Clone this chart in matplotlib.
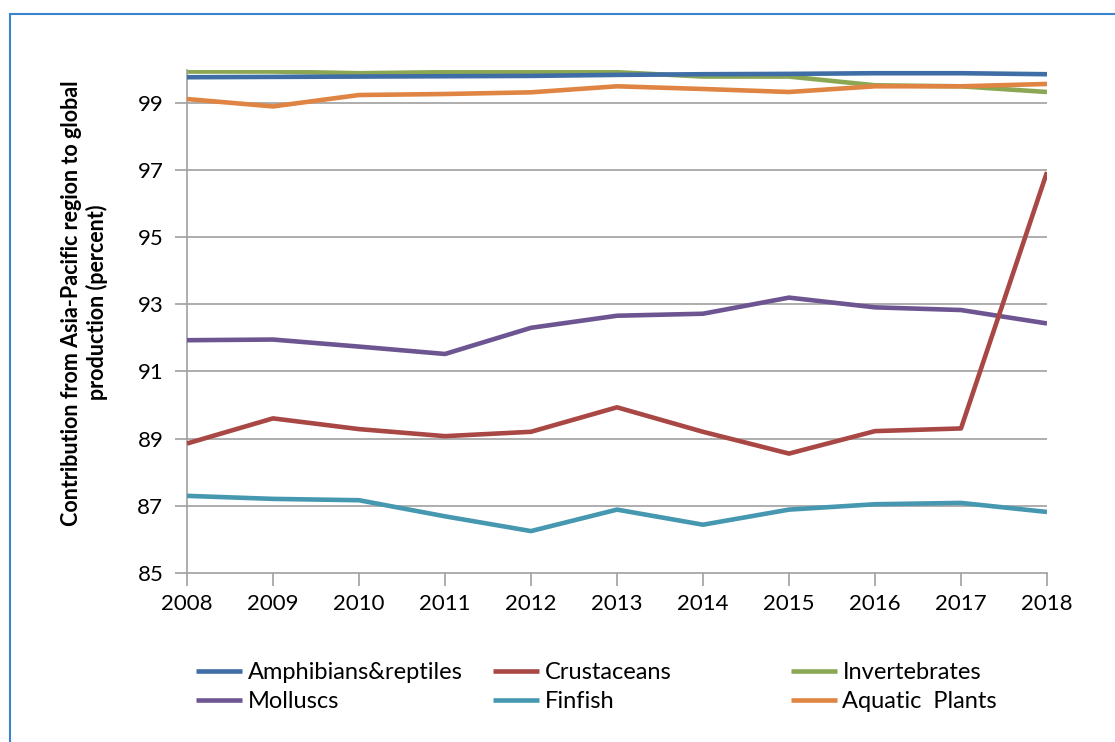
import matplotlib.pyplot as plt
from matplotlib.patches import Rectangle

years = list(range(2008, 2019))

amphibians = [99.77, 99.78, 99.79, 99.80, 99.81, 99.84, 99.86, 99.87, 99.89, 99.89, 99.86]
crustaceans = [88.85, 89.60, 89.28, 89.07, 89.20, 89.93, 89.20, 88.55, 89.22, 89.30, 96.94]
invertebrates = [99.94, 99.94, 99.89, 99.92, 99.92, 99.92, 99.79, 99.79, 99.53, 99.50, 99.33]
molluscs = [91.93, 91.95, 91.74, 91.52, 92.30, 92.66, 92.72, 93.20, 92.91, 92.83, 92.43]
finfish = [87.29, 87.20, 87.16, 86.68, 86.24, 86.88, 86.43, 86.88, 87.04, 87.08, 86.81]
aquatic_plants = [99.12, 98.90, 99.24, 99.27, 99.32, 99.50, 99.42, 99.33, 99.50, 99.50, 99.57]

names = ['Amphibians&reptiles', 'Crustaceans', 'Invertebrates',
         'Molluscs', 'Finfish', 'Aquatic  Plants']
series = [amphibians, crustaceans, invertebrates, molluscs, finfish, aquatic_plants]
colors = ['#3F6DA6', '#A84744', '#8CA753', '#6C5591', '#4697B0', '#DF8443']
zorders = [3, 5, 2, 4, 3, 6]

yticks = [85, 87, 89, 91, 93, 95, 97, 99]

plt.rcParams['font.family'] = ['Lato', 'DejaVu Sans']

fig = plt.figure(figsize=(11.15, 7.42), dpi=100)
ax = fig.add_axes([0.1677, 0.2282, 0.939 - 0.1677, 0.9063 - 0.2282])

handles = []
for name, vals, c, z in zip(names, series, colors, zorders):
    h, = ax.plot(years, vals, color=c, lw=3.3, zorder=z, label=name,
                 solid_capstyle='butt', solid_joinstyle='round')
    handles.append(h)

ax.set_xlim(2008, 2018)
ax.set_ylim(85, 100)
ax.set_xticks(years)
ax.set_yticks(yticks)
ax.tick_params(axis='both', labelsize=16, length=9, width=1.2,
               color='#a0a0a0', direction='out')
ax.tick_params(axis='x', pad=6)
ax.tick_params(axis='y', pad=8)
for y in yticks[1:]:
    ax.axhline(y, color='#a0a0a0', lw=1.2, zorder=1)

for s in ['top', 'right']:
    ax.spines[s].set_visible(False)
for s in ['left', 'bottom']:
    ax.spines[s].set_color('#a0a0a0')
    ax.spines[s].set_linewidth(1.2)

fig.text(0.076, 0.592, 'Contribution from Asia-Pacific region to global\nproduction (percent)',
         rotation=90, ha='center', va='center', fontsize=15.5, fontweight='bold',
         linespacing=1.2)

# three legend columns, two rows each
col_x = [0.176, 0.442, 0.709]
for i, x in enumerate(col_x):
    hs = [handles[i], handles[i + 3]]
    fig.legend(hs, [h.get_label() for h in hs], loc='upper left',
               bbox_to_anchor=(x, 0.108), frameon=False, fontsize=17,
               handlelength=1.95, handletextpad=0.25, labelspacing=0.35,
               borderaxespad=0, borderpad=0)

# chart border
fig.patches.append(Rectangle((10 / 1115, -0.01), 1.1, 1 - 14 / 742 + 0.01,
                             transform=fig.transFigure, fill=False,
                             edgecolor='#3b82cc', lw=1.5))

fig.savefig('out.png', dpi=100)
